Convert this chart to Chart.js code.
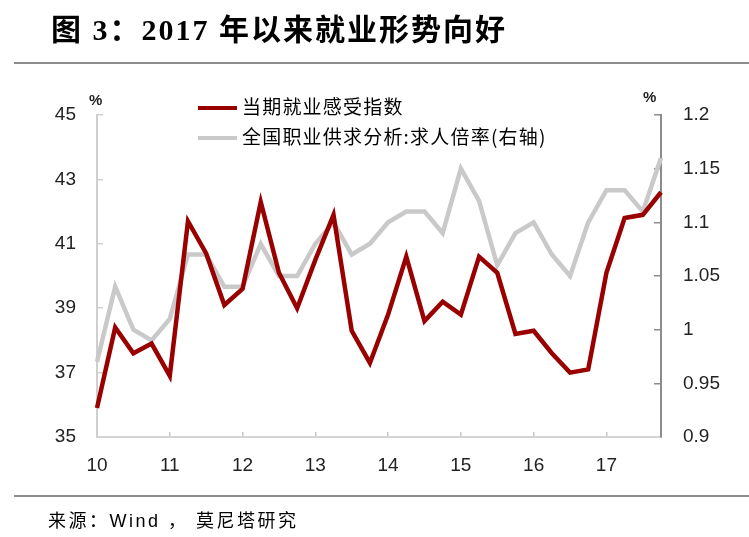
<!DOCTYPE html>
<html><head><meta charset="utf-8">
<script src="https://cdn.jsdelivr.net/npm/chart.js@4.4.1/dist/chart.umd.min.js"></script>
<style>
html,body{margin:0;padding:0;background:#fff;width:749px;height:537px;overflow:hidden}
#wrap{position:absolute;left:0;top:0;width:749px;height:537px}
canvas{position:absolute;left:0;top:0}
.title{position:absolute;left:51px;top:5px;font-weight:bold;font-size:30px;font-family:"Liberation Serif","Noto Sans CJK SC",serif;letter-spacing:2px;color:#000;white-space:nowrap}
.rule{position:absolute;left:14px;width:735px;height:2px;background:#8c8c8c}
.src{position:absolute;left:48px;top:506px;font-size:18px;font-family:"Liberation Sans","Noto Sans CJK SC",sans-serif;color:#000;white-space:nowrap;letter-spacing:2.5px}
.leg{position:absolute;left:198px;font-size:19px;font-family:"Noto Sans CJK SC",sans-serif;letter-spacing:1.2px;color:#000;white-space:nowrap;line-height:22px}
.leg i{display:inline-block;width:39px;height:4px;vertical-align:middle;margin-right:5px;position:relative;top:-1px}
.pct{position:absolute;font-weight:bold;font-size:15px;font-family:"Liberation Sans",sans-serif;color:#222}
</style></head>
<body>
<div id="wrap">
<canvas id="c" width="749" height="537"></canvas>
<div class="title">图 3：2017 年以来就业形势向好</div>
<div class="rule" style="top:62px"></div>
<div class="rule" style="top:495px"></div>
<div class="src">来源：Wind ， 莫尼塔研究</div>
<div class="pct" style="left:89px;top:91px">%</div>
<div class="pct" style="left:643px;top:88px">%</div>
<div id="leg1" class="leg" style="top:95px"></div>
<div id="leg2" class="leg" style="top:125px"></div>
</div>
<script>
const quarters = ['2010Q1','2010Q2','2010Q3','2010Q4','2011Q1','2011Q2','2011Q3','2011Q4',
  '2012Q1','2012Q2','2012Q3','2012Q4','2013Q1','2013Q2','2013Q3','2013Q4',
  '2014Q1','2014Q2','2014Q3','2014Q4','2015Q1','2015Q2','2015Q3','2015Q4',
  '2016Q1','2016Q2','2016Q3','2016Q4','2017Q1','2017Q2','2017Q3','2017Q4'];
const yearTicks = ['10','11','12','13','14','15','16','17'];
const seriesNames = ['当期就业感受指数','全国职业供求分析:求人倍率(右轴)'];
const jobFeeling = [35.9,38.4,37.6,37.9,36.9,41.7,40.7,39.1,39.6,42.3,40.1,39.0,40.5,41.9,38.3,37.3,
  38.8,40.6,38.6,39.2,38.8,40.6,40.1,38.2,38.3,37.6,37.0,37.1,40.1,41.8,41.9,42.6];
const jobRatio = [0.97,1.04,1.00,0.99,1.01,1.07,1.07,1.04,1.04,1.08,1.05,1.05,1.08,1.10,1.07,1.08,
  1.10,1.11,1.11,1.09,1.15,1.12,1.06,1.09,1.10,1.07,1.05,1.10,1.13,1.13,1.11,1.16];
const leftTicks = ['35','37','39','41','43','45'];
const rightTicks = ['0.9','0.95','1','1.05','1.1','1.15','1.2'];
const colors = ['#990000','#c9c9c9'];

document.getElementById('leg1').innerHTML = '<i style="background:'+colors[0]+'"></i>'+seriesNames[0];
document.getElementById('leg2').innerHTML = '<i style="background:'+colors[1]+'"></i>'+seriesNames[1];

const tickFont = {family:'"Liberation Sans", sans-serif', size:19};
new Chart(document.getElementById('c'), {
  type:'line',
  data:{labels:quarters, datasets:[
    {label:seriesNames[0], data:jobFeeling, borderColor:colors[0], borderWidth:4.5, pointRadius:0, tension:0, yAxisID:'y', order:0, borderJoinStyle:'miter'},
    {label:seriesNames[1], data:jobRatio, borderColor:colors[1], borderWidth:4.5, pointRadius:0, tension:0, yAxisID:'y2', order:1, borderJoinStyle:'miter'}
  ]},
  options:{
    responsive:false, animation:false, events:[],
    layout:{padding:{left:0,right:0,top:115,bottom:60}},
    plugins:{legend:{display:false}, tooltip:{enabled:false}},
    scales:{
      x:{type:'category', offset:false,
        border:{color:'#d4d4d4', width:2},
        grid:{drawOnChartArea:false, tickLength:-5, lineWidth:1.5, color:c=> (c.index%4===0 ? '#c8c8c8' : 'rgba(0,0,0,0)')},
        ticks:{autoSkip:false, maxRotation:0, minRotation:0, padding:22, font:tickFont, color:'#222',
          callback:(v,i)=> (i%4===0 ? yearTicks[i/4] : '')},
        afterFit:s=>{s.height=40;}
      },
      y:{position:'left', min:35, max:45,
        border:{color:'#cfcfcf', width:2},
        grid:{drawOnChartArea:false, tickLength:-6, color:'#cfcfcf', lineWidth:1.5},
        ticks:{stepSize:2, padding:27, font:tickFont, color:'#222', callback:(v,i)=> leftTicks[i]},
        afterFit:s=>{s.width=97;}
      },
      y2:{position:'right', min:0.9, max:1.2,
        border:{color:'#8c8c8c', width:2},
        grid:{drawOnChartArea:false, tickLength:-7, color:'#8c8c8c', lineWidth:1.5},
        ticks:{stepSize:0.05, padding:29, font:tickFont, color:'#222', callback:(v,i)=> rightTicks[i]},
        afterFit:s=>{s.width=88;}
      }
    }
  }
});
</script>
</body></html>
